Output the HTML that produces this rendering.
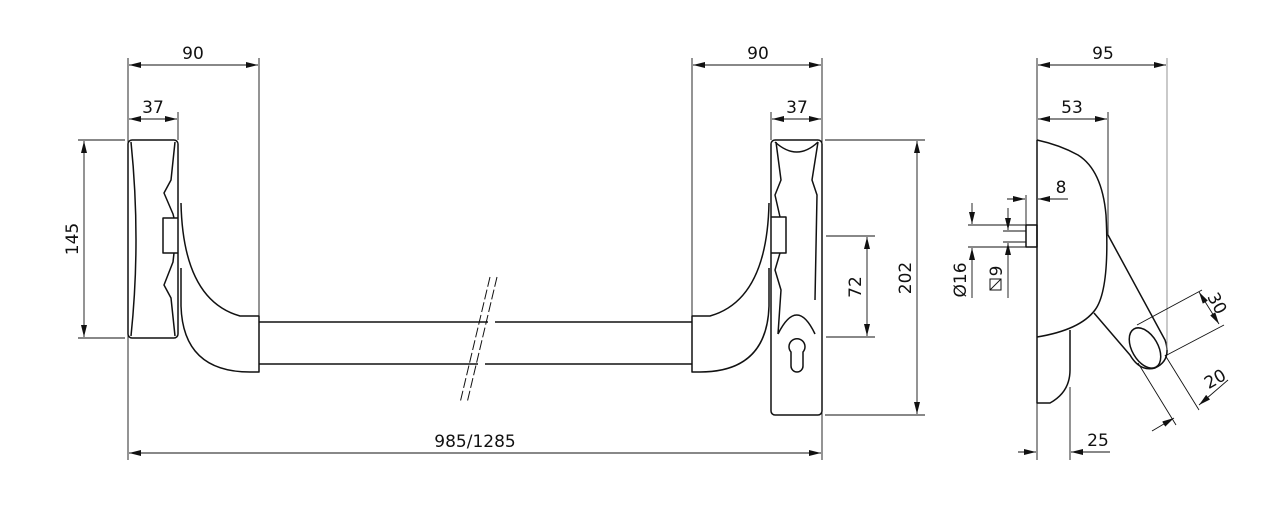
<!DOCTYPE html>
<html><head><meta charset="utf-8"><style>
html,body{margin:0;padding:0;background:#fff;}
svg{display:block}
text{font-family:"DejaVu Sans","Liberation Sans",sans-serif;font-size:17px;fill:#111}
</style></head><body>
<svg width="1282" height="514" viewBox="0 0 1282 514" xmlns="http://www.w3.org/2000/svg">
<defs>
<marker id="a" viewBox="0 0 12 6" refX="12" refY="3" markerWidth="12" markerHeight="6" markerUnits="userSpaceOnUse" orient="auto-start-reverse"><path d="M0,0 L12,3 L0,6 z" fill="#111"/></marker>
</defs>
<g stroke="#111" stroke-width="0.9" fill="none">
<line x1="128" y1="58" x2="128" y2="460"/>
<line x1="259" y1="58" x2="259" y2="316"/>
<line x1="129" y1="65" x2="258" y2="65" marker-start="url(#a)" marker-end="url(#a)"/>
<line x1="178" y1="112" x2="178" y2="140"/>
<line x1="129" y1="119" x2="177" y2="119" marker-start="url(#a)" marker-end="url(#a)"/>
<line x1="78" y1="140" x2="125" y2="140"/>
<line x1="78" y1="338" x2="125" y2="338"/>
<line x1="84" y1="141" x2="84" y2="337" marker-start="url(#a)" marker-end="url(#a)"/>
<line x1="129" y1="453" x2="821" y2="453" marker-start="url(#a)" marker-end="url(#a)"/>
<line x1="822" y1="58" x2="822" y2="460"/>
<line x1="692" y1="58" x2="692" y2="316"/>
<line x1="693" y1="65" x2="821" y2="65" marker-start="url(#a)" marker-end="url(#a)"/>
<line x1="771" y1="112" x2="771" y2="140"/>
<line x1="772" y1="119" x2="821" y2="119" marker-start="url(#a)" marker-end="url(#a)"/>
<line x1="825" y1="140" x2="925" y2="140"/>
<line x1="825" y1="415" x2="925" y2="415"/>
<line x1="917" y1="141" x2="917" y2="414" marker-start="url(#a)" marker-end="url(#a)"/>
<line x1="826" y1="236" x2="875" y2="236"/>
<line x1="826" y1="337" x2="875" y2="337"/>
<line x1="867" y1="237" x2="867" y2="336" marker-start="url(#a)" marker-end="url(#a)"/>
</g>
<g stroke="#111" stroke-width="1.5" fill="none" stroke-linejoin="round">
<rect x="128" y="140" width="50" height="198" rx="4"/>
<path d="M131,142 Q141,240 131,336"/>
<path d="M175,142 L171,180 L164,193 L173,214 L174,218"/>
<path d="M175,336 L171,298 L164,285 L173,262 L174,253"/>
<path d="M178,218 L163,218 L163,253 L178,253"/>
<path d="M181,203 Q183,300 240,316 L259,316 L259,372 L250,372 Q183,372 181,306 L181,268"/>
<path d="M259,322 L488,322 M495,322 L692,322 M259,364 L478,364 M485,364 L692,364"/>
<rect x="771" y="140" width="51" height="275" rx="4"/>
<path d="M775,142 Q797,162 818,142"/>
<path d="M776,142 L781,180 L775,195 L780,217"/>
<path d="M818,142 L812,180 L817,195 L815,300"/>
<path d="M780,253 L775,270 L781,290 L778,334 M778,334 Q797,296 815,334"/>
<path d="M771,217 L786,217 L786,253 L771,253"/>
<path d="M769,203 Q767,300 710,316 L692,316 L692,372 L700,372 Q767,372 769,306 L769,268"/>
<path d="M791,352 A8,8 0 1 1 803,352 L803,366 A6,6 0 0 1 791,366 Z"/>
<path d="M1037,140 L1037,403 L1050,403 Q1070,392 1070,370 L1070,330"/>
<path d="M1037,140 Q1060,145 1078,155 Q1102,170 1106,215 Q1110,290 1095,310 Q1080,330 1037,337"/>
<path d="M1108,235 L1165,340 Q1172,360 1155,368 Q1140,372 1130,355 L1094,313"/>
<ellipse cx="1145" cy="348" rx="13" ry="22" transform="rotate(-30 1145 348)"/>
<rect x="1026" y="225" width="11" height="22"/>
</g>
<g stroke="#111" stroke-width="0.9" fill="none">
<path d="M490,277 L460,403 M497,277 L467,403" stroke-dasharray="10,3" stroke-width="1"/>
<line x1="1037" y1="58" x2="1037" y2="460"/>
<line x1="1167" y1="58" x2="1167" y2="350" stroke="#888"/>
<line x1="1108" y1="112" x2="1108" y2="235"/>
<line x1="1038" y1="65" x2="1166" y2="65" marker-start="url(#a)" marker-end="url(#a)"/>
<line x1="1038" y1="119" x2="1107" y2="119" marker-start="url(#a)" marker-end="url(#a)"/>
<line x1="1026" y1="195" x2="1026" y2="225"/>
<line x1="1007" y1="199" x2="1025" y2="199" marker-end="url(#a)"/>
<line x1="1068" y1="199" x2="1038" y2="199" marker-end="url(#a)"/>
<line x1="968" y1="225" x2="1026" y2="225"/>
<line x1="968" y1="247" x2="1026" y2="247"/>
<line x1="972" y1="203" x2="972" y2="224" marker-end="url(#a)"/>
<line x1="972" y1="298" x2="972" y2="248" marker-end="url(#a)"/>
<line x1="1003" y1="231" x2="1026" y2="231"/>
<line x1="1003" y1="242" x2="1026" y2="242"/>
<line x1="1008" y1="208" x2="1008" y2="230" marker-end="url(#a)"/>
<line x1="1008" y1="298" x2="1008" y2="243" marker-end="url(#a)"/>
<line x1="1070" y1="387" x2="1070" y2="460"/>
<line x1="1018" y1="452" x2="1036" y2="452" marker-end="url(#a)"/>
<line x1="1110" y1="452" x2="1071" y2="452" marker-end="url(#a)"/>
<line x1="1137" y1="325" x2="1202" y2="290"/>
<line x1="1165" y1="356" x2="1224" y2="325"/>
<line x1="1199" y1="292" x2="1219" y2="324" marker-start="url(#a)" marker-end="url(#a)"/>
<line x1="1138" y1="363" x2="1176" y2="425"/>
<line x1="1165" y1="355" x2="1199" y2="410"/>
<line x1="1152" y1="431" x2="1174" y2="418" marker-end="url(#a)"/>
<line x1="1228" y1="380" x2="1199" y2="405" marker-end="url(#a)"/>
<rect x="990" y="279" width="11" height="11" stroke-width="1"/>
<line x1="990" y1="290" x2="1001" y2="279"/>
</g>
<g text-anchor="middle">
<text x="193" y="59">90</text>
<text x="153" y="113">37</text>
<text x="758" y="59">90</text>
<text x="797" y="113">37</text>
<text x="475" y="447">985/1285</text>
<text x="1103" y="59">95</text>
<text x="1072" y="113">53</text>
<text x="1061" y="193">8</text>
<text x="1098" y="446">25</text>
<text transform="translate(78,239) rotate(-90)">145</text>
<text transform="translate(911,278) rotate(-90)">202</text>
<text transform="translate(861,287) rotate(-90)">72</text>
<text transform="translate(966,280) rotate(-90)">Ø16</text>
<text transform="translate(1002,271) rotate(-90)">9</text>
<text transform="translate(1212,306) rotate(62)">30</text>
<text transform="translate(1218,384) rotate(-30)">20</text>
</g>
</svg>
</body></html>
